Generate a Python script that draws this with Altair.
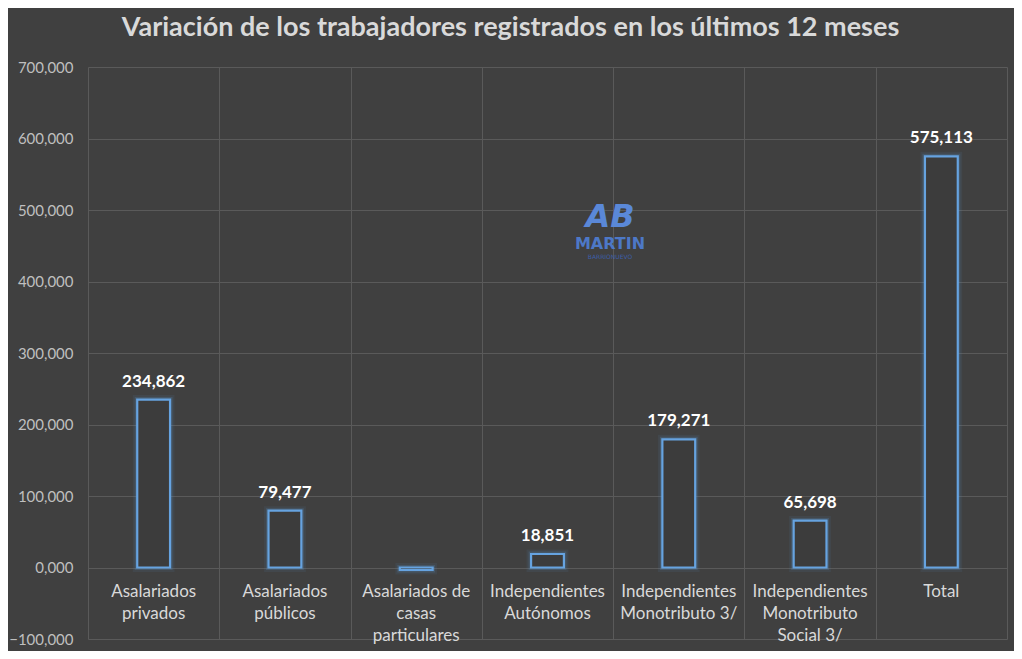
import altair as alt
import pandas as pd

categories = ["Asalariados|privados", "Asalariados|públicos", "Asalariados de|casas|particulares",
              "Independientes|Autónomos", "Independientes|Monotributo 3/",
              "Independientes|Monotributo|Social 3/", "Total"]
values = [234862, 79477, -3500, 18851, 179271, 65698, 575113]
value_labels = ["234,862", "79,477", "", "18,851", "179,271", "65,698", "575,113"]

df = pd.DataFrame({"cat": categories, "val": values, "lab": value_labels, "zero": [0] * len(values)})

BG = "#404040"
GRID = "#5a5a5a"
BLUE = "#5B9BD5"
FONT = "Lato"

x = alt.X("cat:N", sort=categories,
          scale=alt.Scale(paddingInner=0, paddingOuter=0),
          axis=alt.Axis(labels=False, ticks=False, domain=False, grid=True, tickBand="extent",
                        gridColor=GRID, gridWidth=1, title=None))
y = alt.Y("val:Q", scale=alt.Scale(domain=[-100000, 700000], nice=False),
          axis=alt.Axis(values=list(range(-100000, 700001, 100000)),
                        labelExpr="datum.value == 0 ? '0,000' : format(datum.value, ',')",
                        labelColor="#bfbfbf", labelFontSize=15, labelFont=FONT, labelPadding=15,
                        ticks=False, domain=False, gridColor=GRID, gridWidth=1, title=None))

base = alt.Chart(df)

glow1 = base.mark_bar(width=alt.RelativeBandSize(0.25), fillOpacity=0, stroke=BLUE,
                      strokeWidth=9, strokeOpacity=0.08).encode(x=x, y=y, y2="zero:Q")
glow2 = base.mark_bar(width=alt.RelativeBandSize(0.25), fillOpacity=0, stroke=BLUE,
                      strokeWidth=5, strokeOpacity=0.2).encode(x=x, y=y, y2="zero:Q")
bars = base.mark_bar(width=alt.RelativeBandSize(0.25), fill="#3c3c3c", stroke="#66a3e0",
                     strokeWidth=2.2).encode(x=x, y=y, y2="zero:Q")

val_text = base.mark_text(baseline="bottom", dy=-9, fontSize=17, fontWeight="bold",
                          font=FONT, color="#ffffff").encode(x=x, y=y, text="lab:N")

cat_text = base.mark_text(baseline="top", dy=16, fontSize=17, font=FONT, color="#d9d9d9",
                          lineBreak="|", lineHeight=22).encode(
    x=x, y=alt.Y("zero:Q", scale=alt.Scale(domain=[-100000, 700000], nice=False)), text="cat:N")

wm = alt.Chart(pd.DataFrame({"t": ["MARTIN"]})).mark_text(
    fontSize=16, fontWeight="bold", font="DejaVu Sans", color="#4f7fd6", opacity=0.9).encode(
    x=alt.value(522), y=alt.value(177), text="t:N")
wm2 = alt.Chart(pd.DataFrame({"t": ["BARRIONUEVO"]})).mark_text(
    fontSize=6, font="DejaVu Sans", color="#3d5fa8").encode(
    x=alt.value(522), y=alt.value(190), text="t:N")
wm3 = alt.Chart(pd.DataFrame({"t": ["AB"]})).mark_text(
    fontSize=32, fontWeight="bold", font="DejaVu Sans", color="#5a88d8", fontStyle="italic").encode(
    x=alt.value(522), y=alt.value(150), text="t:N")

chart = alt.layer(glow1, glow2, bars, val_text, cat_text, wm3, wm, wm2).properties(
    width=919, height=572,
    background=BG,
    padding={"left": 80, "top": 59, "right": 7, "bottom": 12},
    autosize=alt.AutoSizeParams(type="none"),
    title=alt.TitleParams("Variación de los trabajadores registrados en los últimos 12 meses",
                          fontSize=27, fontWeight="bold", font=FONT, color="#d9d9d9",
                          anchor="middle", dx=-37, offset=18),
).configure_view(stroke=None)

chart.save("out.html", embed_options={"renderer": "svg", "actions": False})
